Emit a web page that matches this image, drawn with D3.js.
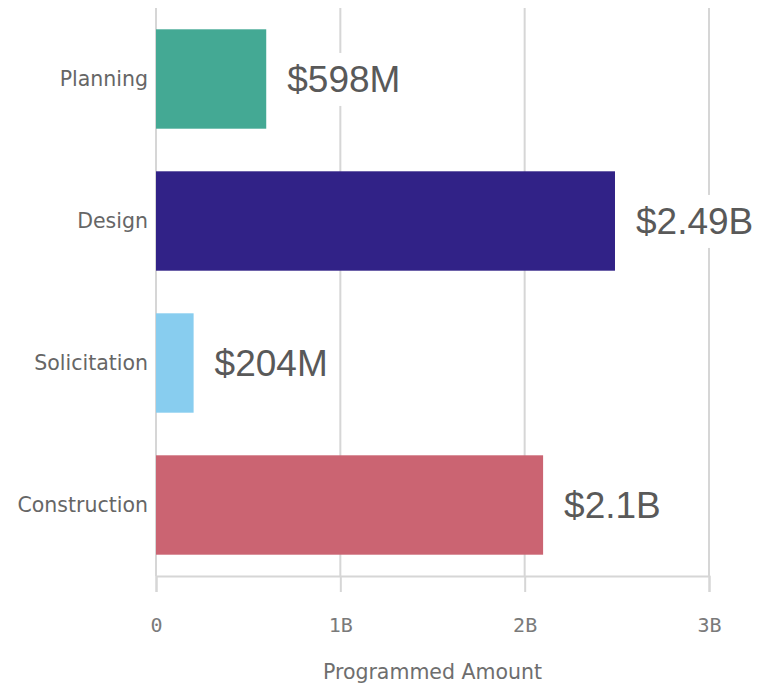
<!DOCTYPE html>
<html lang="en">
<head>
<meta charset="UTF-8">
<title>Programmed Amount by Phase</title>
<script src="https://d3js.org/d3.v7.min.js"></script>
<style>
  body { margin: 0; background: #fff; }
</style>
</head>
<body>
<div id="chart"></div>
<script>
// data
const phases = ['Planning', 'Design', 'Solicitation', 'Construction'];
const amounts = [598e6, 2.49e9, 204e6, 2.1e9];
const valueLabels = ['$598M', '$2.49B', '$204M', '$2.1B'];
const colors = ['#44a994', '#312287', '#88cdef', '#cb6472'];
const tickValues = [0, 1e9, 2e9, 3e9];
const tickLabels = ['0', '1B', '2B', '3B'];

const W = 771, H = 691;
const margin = { top: 8, right: 62, bottom: 115, left: 156 };

const svg = d3.select('#chart').append('svg')
  .attr('width', W)
  .attr('height', H);

const x = d3.scaleLinear()
  .domain([0, 3e9])
  .range([margin.left, 709]);

const y = d3.scaleBand()
  .domain(phases)
  .range([margin.top, H - margin.bottom])
  .paddingInner(0.3)
  .paddingOuter(0.15);

// gridlines
svg.append('g')
  .selectAll('line')
  .data(tickValues)
  .join('line')
  .attr('x1', d => x(d)).attr('x2', d => x(d))
  .attr('y1', margin.top).attr('y2', H - margin.bottom)
  .attr('stroke', '#d6d6d6')
  .attr('stroke-width', 2);

// x axis
const xAxis = d3.axisBottom(x)
  .tickValues(tickValues)
  .tickFormat((d, i) => tickLabels[i])
  .tickSize(16)
  .tickPadding(26);

const gx = svg.append('g')
  .attr('transform', `translate(0,${H - margin.bottom})`)
  .call(xAxis);
gx.select('.domain').attr('stroke', '#d6d6d6').attr('stroke-width', 2);
gx.selectAll('.tick line').attr('stroke', '#d6d6d6').attr('stroke-width', 2);
gx.selectAll('.tick text')
  .attr('fill', '#7a7a7a')
  .style('font-family', '"DejaVu Sans Mono", monospace')
  .style('font-size', '20px');

svg.append('text')
  .attr('x', (x(0) + x(3e9)) / 2)
  .attr('y', 679)
  .attr('text-anchor', 'middle')
  .attr('fill', '#6e6e6e')
  .style('font-family', '"DejaVu Sans", sans-serif')
  .style('font-size', '20.5px')
  .text('Programmed Amount');

// y axis labels
svg.append('g')
  .selectAll('text')
  .data(phases)
  .join('text')
  .attr('x', 148)
  .attr('y', d => y(d) + y.bandwidth() / 2)
  .attr('dy', '0.35em')
  .attr('text-anchor', 'end')
  .attr('fill', '#666')
  .style('font-family', '"DejaVu Sans", sans-serif')
  .style('font-size', '20.5px')
  .text(d => d);

// bars
svg.append('g')
  .selectAll('rect')
  .data(phases)
  .join('rect')
  .attr('x', x(0))
  .attr('y', d => y(d))
  .attr('width', (d, i) => x(amounts[i]) - x(0))
  .attr('height', y.bandwidth())
  .attr('fill', (d, i) => colors[i]);

// value labels with white backing
const lbl = svg.append('g')
  .selectAll('g')
  .data(phases)
  .join('g')
  .attr('transform', (d, i) => `translate(${x(amounts[i]) + 21},${y(d) + y.bandwidth() / 2})`);

lbl.append('text')
  .attr('dy', '0.35em')
  .attr('fill', '#595959')
  .style('font-family', '"Liberation Sans", Arial, sans-serif')
  .style('font-size', '37px')
  .text((d, i) => valueLabels[i]);

lbl.each(function () {
  const g = d3.select(this);
  const b = g.select('text').node().getBBox();
  g.insert('rect', 'text')
    .attr('x', b.x - 6)
    .attr('y', b.y - 6)
    .attr('width', b.width + 12)
    .attr('height', b.height + 12)
    .attr('fill', '#fff');
});
</script>
</body>
</html>
